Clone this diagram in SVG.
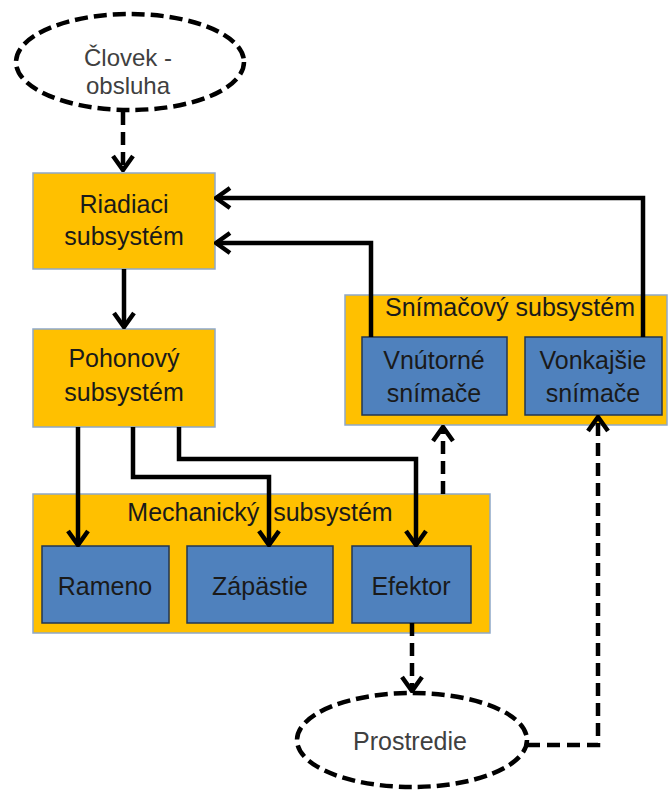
<svg xmlns="http://www.w3.org/2000/svg" width="670" height="790" viewBox="0 0 670 790">
  <style>
    .sub { fill: #FFC000; stroke: #8FA8C8; stroke-width: 1.5; }
    .part { fill: #4F81BD; stroke: #233650; stroke-width: 1.5; }
    .oval { fill: #FFFFFF; stroke: #000000; stroke-width: 4.5; stroke-dasharray: 13 6; }
    .lbl { font-family: "Liberation Sans", Arial, sans-serif; font-size: 25px; fill: #1A1A1A; text-anchor: middle; }
    .olbl { font-family: "Liberation Sans", Arial, sans-serif; font-size: 25px; fill: #404040; text-anchor: middle; }
    .wire { fill: none; stroke: #000000; stroke-width: 4.5; stroke-linejoin: miter; marker-end: url(#head); }
    .dash { stroke-dasharray: 13 7; }
  </style>
  <defs>
    <marker id="head" viewBox="0 0 18 24" refX="16" refY="12" markerWidth="18" markerHeight="24" markerUnits="userSpaceOnUse" orient="auto">
      <path d="M2,2 L16,12 L2,22" fill="none" stroke="#000000" stroke-width="4.5" stroke-linejoin="miter"/>
    </marker>
  </defs>

  <rect width="670" height="790" fill="#FFFFFF"/>

  <!-- operator -->
  <g id="clovek">
    <ellipse class="oval" cx="130" cy="62" rx="114" ry="48"/>
    <text class="olbl" x="128" y="66" style="font-size:24px">Človek -</text>
    <text class="olbl" x="128" y="94" style="font-size:24px">obsluha</text>
  </g>

  <!-- control subsystem -->
  <g id="riadiaci">
    <rect class="sub" x="33" y="173" width="182" height="96"/>
    <text class="lbl" x="124" y="213">Riadiaci</text>
    <text class="lbl" x="124" y="245">subsystém</text>
  </g>

  <!-- drive subsystem -->
  <g id="pohonovy">
    <rect class="sub" x="33" y="329" width="182" height="98"/>
    <text class="lbl" x="124" y="367">Pohonový</text>
    <text class="lbl" x="124" y="401">subsystém</text>
  </g>

  <!-- sensing subsystem -->
  <g id="snimacovy">
    <rect class="sub" x="345" y="295" width="322" height="130"/>
    <text class="lbl" x="510" y="316">Snímačový subsystém</text>
  </g>
  <g id="vnutorne">
    <rect class="part" x="362" y="337" width="145" height="78"/>
    <text class="lbl" x="434" y="369">Vnútorné</text>
    <text class="lbl" x="434" y="402">snímače</text>
  </g>
  <g id="vonkajsie">
    <rect class="part" x="525" y="337" width="137" height="78"/>
    <text class="lbl" x="593" y="369">Vonkajšie</text>
    <text class="lbl" x="593" y="402">snímače</text>
  </g>

  <!-- mechanical subsystem -->
  <g id="mechanicky">
    <rect class="sub" x="33" y="494" width="457" height="139"/>
    <text class="lbl" x="260" y="521" xml:space="preserve">Mechanický  subsystém</text>
  </g>
  <g id="rameno">
    <rect class="part" x="42" y="546" width="127" height="77"/>
    <text class="lbl" x="105" y="595">Rameno</text>
  </g>
  <g id="zapastie">
    <rect class="part" x="187" y="546" width="146" height="77"/>
    <text class="lbl" x="260" y="595">Zápästie</text>
  </g>
  <g id="efektor">
    <rect class="part" x="352" y="546" width="119" height="77"/>
    <text class="lbl" x="411" y="595">Efektor</text>
  </g>

  <!-- environment -->
  <g id="prostredie">
    <ellipse class="oval" cx="412" cy="740" rx="115" ry="47"/>
    <text class="olbl" x="410" y="750">Prostredie</text>
  </g>

  <!-- connectors -->
  <g id="connectors">
    <path class="wire dash" d="M123,112 V170"/>
    <path class="wire" d="M124,269 V327"/>
    <path class="wire" d="M643,337 V198 H216"/>
    <path class="wire" d="M371,337 V243 H216"/>
    <path class="wire" d="M78,427 V545"/>
    <path class="wire" d="M133,427 V477 H269 V545"/>
    <path class="wire" d="M179,427 V459 H416 V545"/>
    <path class="wire dash" d="M443,494 V427"/>
    <path class="wire dash" d="M412,623 V691"/>
    <path class="wire dash" d="M527,745 H598 V417"/>
  </g>
</svg>
